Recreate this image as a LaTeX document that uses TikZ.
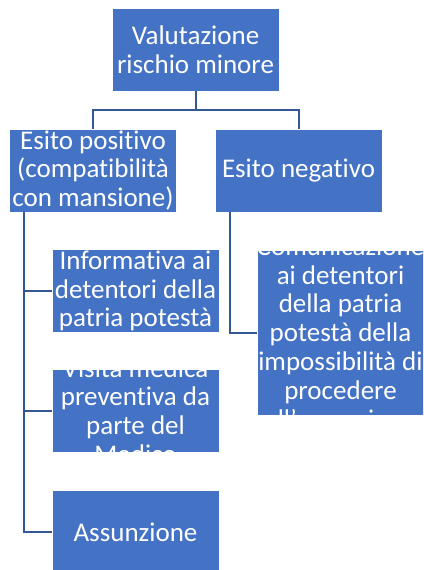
\documentclass[tikz,border=0pt]{standalone}
\usepackage{fontspec}
\setmainfont[Ligatures=NoCommon]{Carlito}
\definecolor{boxblue}{RGB}{68,114,196}
\definecolor{lineblue}{RGB}{52,87,150}
\tikzset{
  box/.style={rectangle, fill=boxblue, draw=white, line width=0.6pt, inner sep=0pt,
    minimum width=167pt, minimum height=83pt,
    path picture={\node[boxtxt] at (path picture bounding box.center) {#1};}},
  boxtxt/.style={text=white, align=center, inner sep=0pt, font=\fontsize{27}{28.8}\selectfont},
  conn/.style={draw=lineblue, line width=2pt}
}
\begin{document}
\begin{tikzpicture}[x=1pt,y=-1pt]
\clip (0,0) rectangle (423,570);
\fill[white] (0,0) rectangle (423,570);
\node[box={Valutazione\\rischio minore}] (top) at (195.5,49.5) {};
\node[box={Esito positivo\\(compatibilità\\con mansione)}] (pos) at (93,170.5) {};
\node[box={Esito negativo}] (neg) at (298.5,170.5) {};
\node[box={Informativa ai\\detentori della\\patria potestà}] (inf) at (135.5,291) {};
\node[box={Comunicazione\\ai detentori\\della patria\\potestà della\\impossibilità di\\procedere\\all'assunzione}, minimum height=165pt] (com) at (340.5,332.5) {};
\node[box={Visita medica\\preventiva da\\parte del\\Medico}] (vis) at (135.5,411) {};
\node[box={Assunzione}] (ass) at (135.5,532) {};
\draw[conn] (top.south) -- ++(0,19) coordinate (mid) -| (pos.north);
\draw[conn] (mid) -| (neg.north);
\draw[conn] ([xshift=15pt]pos.south west) |- (inf.west);
\draw[conn] ([xshift=15pt]pos.south west) |- (vis.west);
\draw[conn] ([xshift=15pt]pos.south west) |- (ass.west);
\draw[conn] ([xshift=15pt]neg.south west) |- (com.west);
\end{tikzpicture}
\end{document}
